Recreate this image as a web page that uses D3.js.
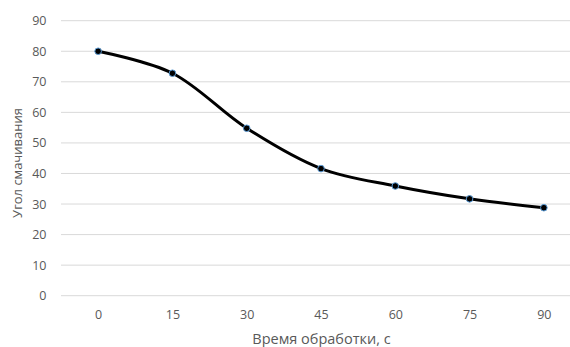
<!DOCTYPE html>
<html><head><meta charset="utf-8">
<script src="https://cdn.jsdelivr.net/npm/d3@7"></script>
<style>body{margin:0;background:#fff;} svg{display:block;}</style>
</head><body>
<svg id="c" width="570" height="347"></svg>
<script>
const categories = ["0","15","30","45","60","75","90"];
const values = [80, 72.8, 54.8, 41.6, 35.9, 31.7, 28.8];
const yTicks = [0,10,20,30,40,50,60,70,80,90];
const xTitle = "Время обработки, с";
const yTitle = "Угол смачивания";

(function(){
const svg = d3.select("#c");
const pL = 61, pR = 581, pT = 20.7, pB = 295.7;
const font = "'Open Sans', 'Noto Sans', sans-serif";

const x = d3.scalePoint().domain(categories).range([pL, pR]).padding(0.5);
const y = d3.scaleLinear().domain([0, 90]).range([pB, pT]);

// gridlines
svg.append("g").selectAll("line").data(yTicks).join("line")
  .attr("x1", pL).attr("x2", 570)
  .attr("y1", d => y(d)).attr("y2", d => y(d))
  .attr("stroke", "#d9d9d9").attr("stroke-width", 1);

// y axis labels
const ya = svg.append("g").attr("transform", `translate(46.5,0)`)
  .call(d3.axisLeft(y).tickValues(yTicks).tickSize(0).tickPadding(0));
ya.select(".domain").remove();
ya.selectAll("text").attr("font-family", font).attr("font-size", 12.5).attr("fill", "#595959");

// x axis labels
const xa = svg.append("g").attr("transform", `translate(0,${pB + 14.7})`)
  .call(d3.axisBottom(x).tickSize(0).tickPadding(0));
xa.select(".domain").remove();
xa.selectAll("text").attr("font-family", font).attr("font-size", 12.5).attr("fill", "#595959");

// line
const data = categories.map((c, i) => ({c, v: values[i]}));
svg.append("path").datum(data)
  .attr("fill", "none").attr("stroke", "#000").attr("stroke-width", 3)
  .attr("d", d3.line().x(d => x(d.c)).y(d => y(d.v)).curve(d3.curveCatmullRom.alpha(0.5)));

// markers
svg.append("g").selectAll("circle").data(data).join("circle")
  .attr("cx", d => x(d.c)).attr("cy", d => y(d.v)).attr("r", 3.3)
  .attr("fill", "#000").attr("stroke", "#5b9bd5").attr("stroke-width", 1);

// titles
svg.append("text").attr("x", 321.5).attr("y", 344)
  .attr("text-anchor", "middle").attr("font-family", font).attr("font-size", 14.5)
  .attr("fill", "#595959").text(xTitle);
svg.append("text").attr("transform", "translate(21.5,163) rotate(-90)")
  .attr("text-anchor", "middle").attr("font-family", font).attr("font-size", 13)
  .attr("fill", "#595959").text(yTitle);
})();
</script>
</body></html>
